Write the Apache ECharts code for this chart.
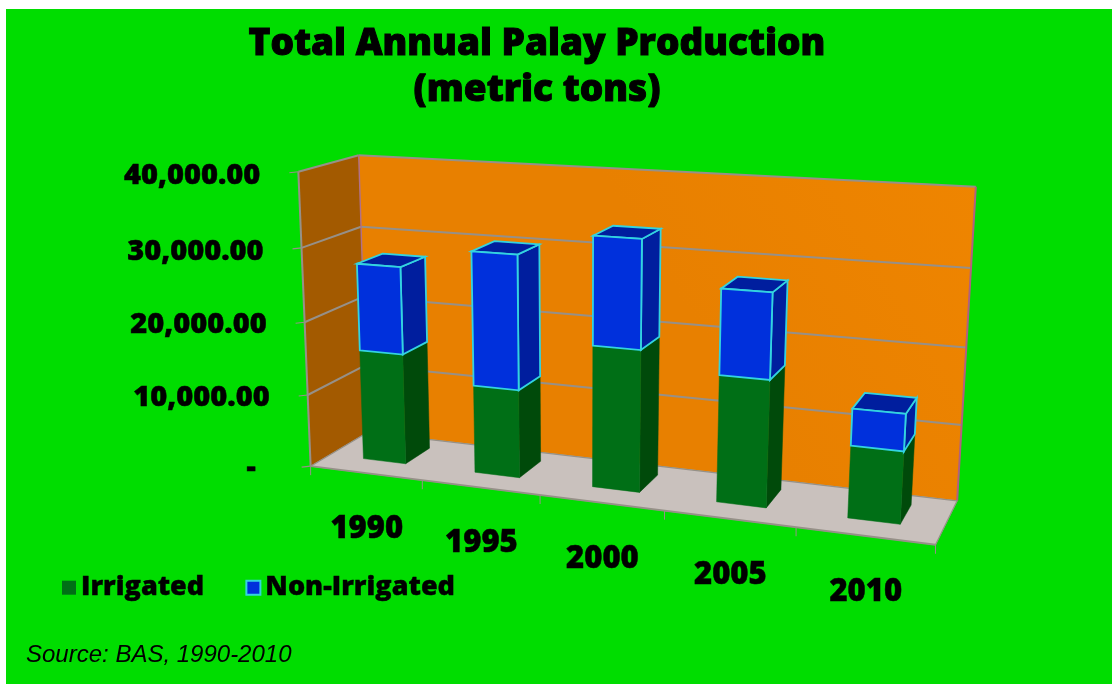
<!DOCTYPE html>
<html><head><meta charset="utf-8">
<style>html,body{margin:0;padding:0;background:#fff}#c{width:1112px;height:684px}</style>
<script src="https://cdn.jsdelivr.net/npm/echarts@6/dist/echarts.min.js"></script>
</head><body><div id="c"></div>
<script>
const categories = ['1990','1995','2000','2005','2010'];
const irrigated = [15300,12000,18900,16600,9300];
const nonIrrigated = [11900,18000,14200,11000,4700];
const yTickValues = [0,10000,20000,30000,40000];
const yTickLabels = ['-','10,000.00','20,000.00','30,000.00','40,000.00'];

// View of the chart box: (across, up, depth) in unit box -> picture position, fit weight.
const viewFit = [
 [0,0,0,313,464,5],[1,0,0,935,547,3],[0,1,0,296,172,5],[0,0,1,363,436,3],[1,0,1,958,498,4],[0,1,1,362,155,3],[1,1,1,976,187,3],
 [0,.75,0,300.7,248,3],[0,.5,0,305,322,3],[0,.25,0,308,394,3],
 [.2,0,0,423,480,1],[.4,0,0,540,497,1],[.6,0,0,665,514,1],[.8,0,0,796,530,1],
 [1,.75,1,970,269,1],[1,.5,1,965,347,1],[1,.25,1,961,424,1],[0,.75,1,365,226,1]
];
function solve(A,b){const n=b.length;const M=A.map((r,i)=>r.concat(b[i]));
 for(let i=0;i<n;i++){let p=i;for(let k=i+1;k<n;k++)if(Math.abs(M[k][i])>Math.abs(M[p][i]))p=k;
  [M[i],M[p]]=[M[p],M[i]];
  for(let k=0;k<n;k++){if(k===i)continue;const f=M[k][i]/M[i][i];for(let j=i;j<=n;j++)M[k][j]-=f*M[i][j];}}
 return M.map((r,i)=>r[n]/r[i]);}
const cam=(function(){const rows=[],rhs=[];
 viewFit.forEach(([u,v,z,x,y,w])=>{
  for(let k=0;k<w;k++){
  rows.push([u,v,z,1,0,0,0,0,-x*u,-x*v,-x*z]);rhs.push(x);
  rows.push([0,0,0,0,u,v,z,1,-y*u,-y*v,-y*z]);rhs.push(y);}});
 const N=11,A=[],b=[];
 for(let i=0;i<N;i++){A.push([]);let s=0;for(let j=0;j<N;j++){let t=0;rows.forEach(r=>t+=r[i]*r[j]);A[i].push(t);}
  rows.forEach((r,k)=>s+=r[i]*rhs[k]);b.push(s);}
 return solve(A,b);})();
function proj(u,v,z){const w=cam[8]*u+cam[9]*v+cam[10]*z+1;
 return [(cam[0]*u+cam[1]*v+cam[2]*z+cam[3])/w,(cam[4]*u+cam[5]*v+cam[6]*z+cam[7])/w];}

const GRID={left:100,top:100,width:800,height:400};
function toUnit(p){return [(p[0]-GRID.left)/GRID.width,(GRID.top+GRID.height-p[1])/GRID.height];}

const FONT='"Open Sans"';
const BAR_W=0.385, Z0=0.33, Z1=0.78;
const GRIDLINE='#969088';
const EDGE='#33D3E0';
function poly(points,fill,stroke,lw){return {type:'polygon',shape:{points},silent:true,style:{fill,stroke:stroke||(typeof fill==='string'?fill:null),lineWidth:stroke?(lw||1):0.5}};}
function line(a,b,c,w){return {type:'line',shape:{x1:a[0],y1:a[1],x2:b[0],y2:b[1]},silent:true,style:{stroke:c||GRIDLINE,lineWidth:w||2}};}
function label(x,y,text,size,align){return {type:'text',silent:true,style:{x,y,text,fill:'#000',font:'800 '+size+'px '+FONT,align:align,verticalAlign:'middle',stroke:'#000',lineWidth:0.5}};}

function renderFrame(params,api){
 const ch=[];
 const bw=toUnit(api.coord([1,0]))[0]-toUnit(api.coord([0,0]))[0];
 ch.push(poly([proj(0,0,0),proj(0,1,0),proj(0,1,1),proj(0,0,1)],'#A35A00'));
 ch.push(poly([proj(0,0,1),proj(0,1,1),proj(1,1,1),proj(1,0,1)],
  new echarts.graphic.LinearGradient(1,0,0.55,0.5,[{offset:0,color:'#EF8500'},{offset:1,color:'#E88000'}])));
 ch.push(poly([proj(0,0,0),proj(0,0,1),proj(1,0,1),proj(1,0,0)],'#C9C1BD'));
 yTickValues.forEach((val,i)=>{
  const v=toUnit(api.coord([0,val]))[1];
  const a=proj(0,v,0),b=proj(0,v,1),c=proj(1,v,1);
  if(val>0){ch.push(line(a,b));ch.push(line(b,c));}
  ch.push(line([a[0]-9,a[1]+1],a,GRIDLINE,1.2));
  const up=(val===40000||val===30000)?1:0;
  ch.push(label(a[0]-(val===0?55:38),a[1]+2.5+up-(val===0?1:0),yTickLabels[i],29,'right'));
 });
 ch.push(line(proj(0,0,0),proj(0,1,0)));
 ch.push(line(proj(0,1,1),proj(0,0,1),'#B0708A',1.4));
 ch.push(line(proj(1,1,1),proj(1,0,1),'#B06080',2));
 ch.push(line(proj(0,0,0),proj(1,0,0),GRIDLINE,1.8));
 ch.push(line(proj(1,0,0),proj(1,0,1),GRIDLINE,1.2));
 ch.push(line(proj(0,0,0),proj(0,0,1),GRIDLINE,1.2));
 ch.push(line(proj(0,0,1),proj(1,0,1),GRIDLINE,1.2));
 for(let i=0;i<=categories.length;i++){
  const p=proj(i*bw,0,0);ch.push(line(p,[p[0],p[1]+9],GRIDLINE,1));
 }
 categories.forEach((c,i)=>{
  const p=proj((i+.5)*bw,0,0);
  ch.push(label(p[0]+1,p[1]+56,c,31,'center'));
 });
 return {type:'group',children:ch};
}
function barRenderer(front,side,top,edge){
 return function(params,api){
  const a=toUnit(api.coord([api.value(0),api.value(1)]));
  const b=toUnit(api.coord([api.value(0),api.value(2)]));
  const hw=toUnit([GRID.left+api.size([1,0])[0],0])[0]*BAR_W/2;
  const u0=a[0]-hw,u1=a[0]+hw,v0=a[1],v1=b[1];
  const ch=[
   poly([proj(u1,v0,Z0),proj(u1,v1,Z0),proj(u1,v1,Z1),proj(u1,v0,Z1)],side,edge,1.8),
   poly([proj(u0,v1,Z0),proj(u0,v1,Z1),proj(u1,v1,Z1),proj(u1,v1,Z0)],top,edge,1.8),
   poly([proj(u0,v0,Z0),proj(u1,v0,Z0),proj(u1,v1,Z0),proj(u0,v1,Z0)],front,edge,1.8)
  ];
  return {type:'group',children:ch};
 };
}
const irrigatedData=irrigated.map((v,i)=>[i,0,v]);
const nonIrrigatedData=nonIrrigated.map((v,i)=>[i,irrigated[i],irrigated[i]+v]);

const chart=echarts.init(document.getElementById('c'),null,{renderer:'canvas'});
chart.setOption({
 animation:false,
 backgroundColor:'#fff',
 title:{text:'Total Annual Palay Production\n(metric tons)',left:532,top:16,textAlign:'center',
  textStyle:{fontFamily:FONT,fontWeight:800,fontSize:37,lineHeight:46,color:'#000',textBorderColor:'#000',textBorderWidth:1}},
 grid:GRID,
 xAxis:{type:'category',data:categories,show:false},
 yAxis:{type:'value',min:0,max:40000,interval:10000,show:false},
 legend:{left:57,top:569,itemWidth:14,itemHeight:14,itemGap:41,icon:'rect',selectedMode:false,
  data:['Irrigated','Non-Irrigated'],
  textStyle:{fontFamily:FONT,fontWeight:800,fontSize:27,color:'#000',textBorderColor:'#000',textBorderWidth:0.4}},
 graphic:[
  {type:'rect',z:-10,silent:true,shape:{x:6,y:9,width:1106,height:675},style:{fill:'#00DD00'}},
  {type:'text',z:10,silent:true,style:{x:26,y:655,text:'Source: BAS, 1990-2010',fill:'#000',font:'italic 24px "Liberation Sans"',verticalAlign:'middle'}}
 ],
 series:[
  {type:'custom',name:'frame',silent:true,z:1,data:[[0,0]],renderItem:renderFrame,encode:{x:0,y:1}},
  {type:'custom',name:'Irrigated',silent:true,z:2,data:irrigatedData,encode:{x:0,y:[1,2]},
   itemStyle:{color:'#006F16'},renderItem:barRenderer('#006F16','#004A0A','#004A0A',null)},
  {type:'custom',name:'Non-Irrigated',silent:true,z:3,data:nonIrrigatedData,encode:{x:0,y:[1,2]},
   itemStyle:{color:'#0030DC',borderColor:EDGE,borderWidth:1},renderItem:barRenderer('#0030DC','#001E9E','#001E9E',EDGE)}
 ]
});
</script></body></html>
